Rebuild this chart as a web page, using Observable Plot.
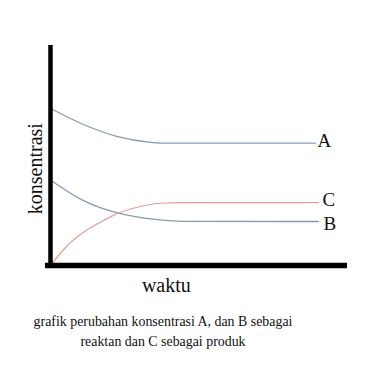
<!DOCTYPE html>
<html>
<head>
<meta charset="utf-8">
<script src="https://cdn.jsdelivr.net/npm/d3@7"></script>
<script src="https://cdn.jsdelivr.net/npm/@observablehq/plot@0.6"></script>
<style>
  html, body { margin: 0; padding: 0; background: #fff; }
  #caption { width: 326px; margin-top: 12px; text-align: center; font-family: "Liberation Serif", "Times New Roman", serif; font-size: 13.9px; line-height: 20px; color: #111; }
</style>
</head>
<body>
<div id="chart"></div>
<div id="caption">grafik perubahan konsentrasi A, dan B sebagai<br>reaktan dan C sebagai produk</div>
<script>
// Series values (x = waktu, y = konsentrasi, arbitrary units 0-100)
const timeA = [0.7, 11.1, 22.6, 33.7, 39.4, 89.2];
const concA = [70.9, 64.1, 58.6, 56.0, 55.6, 55.6];
const timeB = [0.7, 11.1, 22.9, 33.7, 44.8, 90.2];
const concB = [38.2, 29.5, 23.8, 21.2, 20.1, 20.0];
const timeC = [0, 5.7, 11.1, 16.8, 22.9, 30.3, 37, 44.8, 90.2];
const concC = [0, 9.1, 15.1, 19.7, 23.8, 26.8, 28.3, 28.6, 28.6];
const seriesNames = ["A", "B", "C"];
const xLabel = "waktu";
const yLabel = "konsentrasi";

const toRows = (t, c, s) => t.map((x, i) => ({x, y: c[i], s}));
const rowsA = toRows(timeA, concA, "A");
const rowsB = toRows(timeB, concB, "B");
const rowsC = toRows(timeC, concC, "C");
const ends = [rowsA, rowsB, rowsC].map(r => r[r.length - 1]);
const labelOffset = {A: [2, -2], B: [5, 2], C: [4, -3]};

const blue = "#8a9ab3";
const pink = "#e59c9c";
const font = "Liberation Serif, Times New Roman, serif";

const chart = Plot.plot({
  width: 368,
  height: 300,
  marginLeft: 50,
  marginRight: 21,
  marginTop: 45,
  marginBottom: 35,
  x: {domain: [0, 100], axis: null},
  y: {domain: [0, 100], axis: null},
  style: {fontFamily: font, background: "#fff"},
  marks: [
    Plot.line(rowsA, {x: "x", y: "y", stroke: blue, strokeWidth: 1.3, curve: "monotone-x"}),
    Plot.line(rowsB, {x: "x", y: "y", stroke: blue, strokeWidth: 1.3, curve: "monotone-x"}),
    Plot.line(rowsC, {x: "x", y: "y", stroke: pink, strokeWidth: 1.2, curve: "monotone-x"}),
    Plot.ruleX([0], {y1: -1.4, y2: 100, stroke: "#000", strokeWidth: 4.5}),
    Plot.ruleY([0], {x1: -1.7, x2: 100, stroke: "#000", strokeWidth: 5.5}),
    ...ends.map(d => Plot.text([d], {
      x: "x", y: "y", text: d => d.s, textAnchor: "start",
      dx: labelOffset[d.s][0], dy: labelOffset[d.s][1],
      fontSize: 19, fill: "#111", fontFamily: font
    })),
    Plot.text([yLabel], {x: 0, y: 44, text: d => d, rotate: -90, dx: -15, fontSize: 20, fill: "#111", fontFamily: font}),
    Plot.text([xLabel], {x: 39, y: 0, text: d => d, dy: 20, fontSize: 20, fill: "#111", fontFamily: font})
  ]
});
document.getElementById("chart").appendChild(chart);
</script>
</body>
</html>
